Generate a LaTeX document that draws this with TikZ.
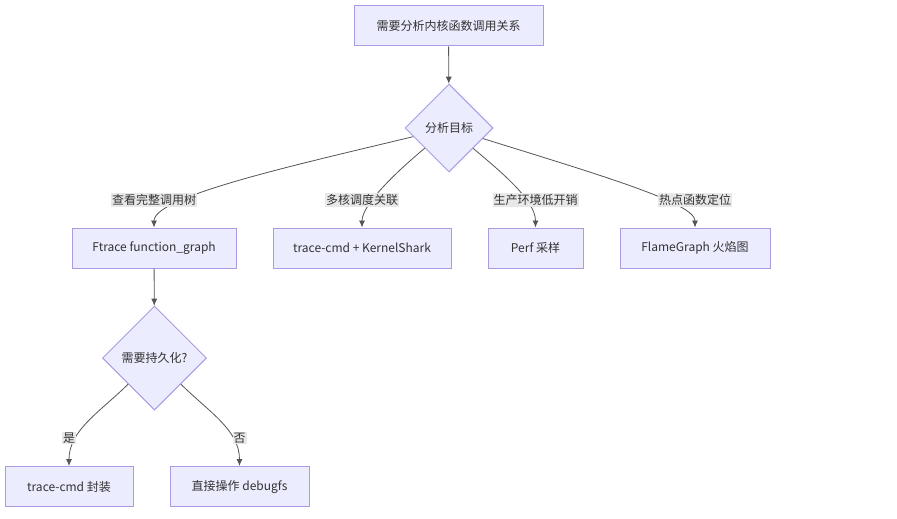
\documentclass[tikz,border=0pt]{standalone}
\usepackage{fontspec}
\setmainfont{Noto Sans CJK SC}
\usetikzlibrary{shapes.geometric,arrows.meta}

\definecolor{nodefill}{HTML}{ECECFF}
\definecolor{nodeline}{HTML}{AA9BE2}
\definecolor{ink}{HTML}{333333}
\definecolor{wire}{HTML}{555555}
\definecolor{lblfill}{HTML}{E8E8E8}

\tikzset{
  box/.style={draw=nodeline, fill=nodefill, text=ink, minimum height=40, inner sep=0, line width=1pt},
  choice/.style={diamond, aspect=1, draw=nodeline, fill=nodefill, text=ink, inner sep=0, line width=1pt},
  lbl/.style={fill=lblfill, text=ink, inner sep=1pt},
  arr/.style={draw=wire, line width=0.8pt, -{Latex[length=7pt,width=6pt]}}
}

\begin{document}
\begin{tikzpicture}[x=1pt, y=-1pt, font=\fontsize{12pt}{14pt}\selectfont]
      \useasboundingbox (0,0) rectangle (897,519);

      \node[box, minimum width=189] (need) at (448.5,26) {需要分析内核函数调用关系};
      \node[choice, minimum width=88, minimum height=88] (goal) at (449,128) {分析目标};
      \node[box, minimum width=164] (ftrace) at (154,248) {Ftrace function\_graph};
      \node[box, minimum width=178] (kshark) at (362,248) {trace-cmd + KernelShark};
      \node[box, minimum width=95] (perf) at (535.5,248) {Perf 采样};
      \node[box, minimum width=150] (flame) at (695,248) {FlameGraph 火焰图};
      \node[choice, minimum width=104, minimum height=104] (persist) at (154.5,358) {需要持久化?};
      \node[box, minimum width=128] (wrap) at (69,486.5) {trace-cmd 封装};
      \node[box, minimum width=139] (debugfs) at (239.5,486.5) {直接操作 debugfs};

      \draw[arr] (need) -- (goal);
      \draw[arr] (goal) .. controls (300,164) and (154,196) .. (ftrace);
      \draw[arr] (goal) .. controls (395,173) and (362,205) .. (kshark);
      \draw[arr] (goal) .. controls (500,171) and (535.5,200) .. (perf);
      \draw[arr] (goal) .. controls (600,175) and (695,203) .. (flame);
      \draw[arr] (ftrace) -- (persist);
      \draw[arr] (persist) .. controls (100,412) and (69,430) .. (wrap);
      \draw[arr] (persist) .. controls (209,412) and (239.5,430) .. (debugfs);

      \node[lbl] (l1) at (154,200) {查看完整调用树};
      \node[lbl] (l2) at (362,200) {多核调度关联};
      \node[lbl] (l3) at (535.5,200) {生产环境低开销};
      \node[lbl] (l4) at (695,200) {热点函数定位};
      \node[lbl] (yes) at (69,438) {是};
      \node[lbl] (no) at (239.5,438) {否};
    \end{tikzpicture}
\end{document}
